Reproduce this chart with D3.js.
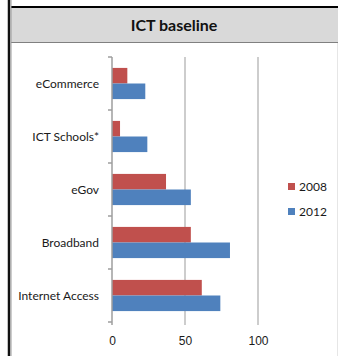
<!DOCTYPE html>
<html>
<head>
<meta charset="utf-8">
<script src="https://cdn.jsdelivr.net/npm/d3@7/dist/d3.min.js"></script>
<style>
  body { margin: 0; background: #fff; }
  svg { display: block; font-family: Lato, "Open Sans", sans-serif; }
  .cat { font-size: 12px; fill: #1a1a1a; }
  .tick text { font-size: 12px; fill: #1a1a1a; }
</style>
</head>
<body>
<svg width="338" height="356"></svg>
<script>
var categories = ["eCommerce", "ICT Schools*", "eGov", "Broadband", "Internet Access"];
var seriesNames = ["2008", "2012"];
var values2008 = [10.5, 5.5, 37, 54, 61.5];
var values2012 = [22.8, 24.2, 54, 80.8, 74.2];
var xTicks = [0, 50, 100];
var colors = ["#c0504d", "#4f81bd"];

var svg = d3.select("svg");

// frame + title band
svg.append("rect").attr("x", 11).attr("y", 7).attr("width", 327).attr("height", 35)
  .attr("fill", "#d9d9d9");
svg.append("line").attr("x1", 11).attr("x2", 338).attr("y1", 7).attr("y2", 7)
  .attr("stroke", "#000").attr("stroke-width", 2);
svg.append("line").attr("x1", 11).attr("x2", 338).attr("y1", 42.5).attr("y2", 42.5)
  .attr("stroke", "#808080").attr("stroke-width", 1);
svg.append("line").attr("x1", 9).attr("x2", 9).attr("y1", 0).attr("y2", 356)
  .attr("stroke", "#111").attr("stroke-width", 2.5);
svg.append("line").attr("x1", 11).attr("x2", 11).attr("y1", 0).attr("y2", 356)
  .attr("stroke", "#9a9a9a").attr("stroke-width", 1);
svg.append("line").attr("x1", 337.5).attr("x2", 337.5).attr("y1", 43).attr("y2", 356)
  .attr("stroke", "#e6e6e6").attr("stroke-width", 1);

svg.append("text").attr("x", 174).attr("y", 31).attr("text-anchor", "middle")
  .style("font-size", "16px").style("font-weight", "bold").attr("fill", "#111")
  .text("ICT baseline");

var x = d3.scaleLinear().domain([0, 100]).range([112, 258]);
var y0 = d3.scaleBand().domain(categories).range([57, 322]);
var y1 = d3.scaleBand().domain(seriesNames).range([0, y0.bandwidth()]).paddingOuter(0.7);

// gridlines
svg.selectAll(".grid").data(xTicks.slice(1)).enter().append("line")
  .attr("class", "grid")
  .attr("x1", d => x(d)).attr("x2", d => x(d))
  .attr("y1", 57).attr("y2", 325)
  .attr("stroke", "#bdbdbd").attr("stroke-width", 1.5);

// x tick labels
svg.append("g").attr("transform", "translate(0,332)")
  .call(d3.axisBottom(x).tickValues(xTicks).tickSize(0).tickPadding(4))
  .call(g => g.select(".domain").remove());

// bars
var rows = categories.map((c, i) => ({cat: c, vals: [values2008[i], values2012[i]]}));
var grp = svg.selectAll(".grp").data(rows).enter().append("g")
  .attr("transform", d => "translate(0," + y0(d.cat) + ")");
grp.selectAll("rect").data(d => d.vals.map((v, j) => ({s: seriesNames[j], v: v, j: j})))
  .enter().append("rect")
  .attr("x", x(0))
  .attr("y", d => y1(d.s))
  .attr("width", d => x(d.v) - x(0))
  .attr("height", y1.bandwidth())
  .attr("fill", d => colors[d.j]);

// y axis line + boundary ticks
svg.append("line").attr("x1", 112).attr("x2", 112).attr("y1", 57).attr("y2", 325)
  .attr("stroke", "#9e9e9e").attr("stroke-width", 1.5);
var bounds = categories.map(c => y0(c)).concat([y0.range()[1]]);
svg.selectAll(".btick").data(bounds).enter().append("line")
  .attr("x1", 108).attr("x2", 112)
  .attr("y1", d => d).attr("y2", d => d)
  .attr("stroke", "#9e9e9e").attr("stroke-width", 1.5);

// category labels
svg.selectAll(".cat").data(categories).enter().append("text")
  .attr("class", "cat")
  .attr("x", 99).attr("y", d => y0(d) + y0.bandwidth() / 2 + 4)
  .attr("text-anchor", "end")
  .text(d => d);

// legend
var leg = svg.selectAll(".leg").data(seriesNames).enter().append("g")
  .attr("transform", (d, i) => "translate(288," + (183 + i * 25) + ")");
leg.append("rect").attr("width", 7).attr("height", 7).attr("fill", (d, i) => colors[i]);
leg.append("text").attr("x", 11).attr("y", 8).style("font-size", "12px")
  .attr("fill", "#1a1a1a").text(d => d);
</script>
</body>
</html>
